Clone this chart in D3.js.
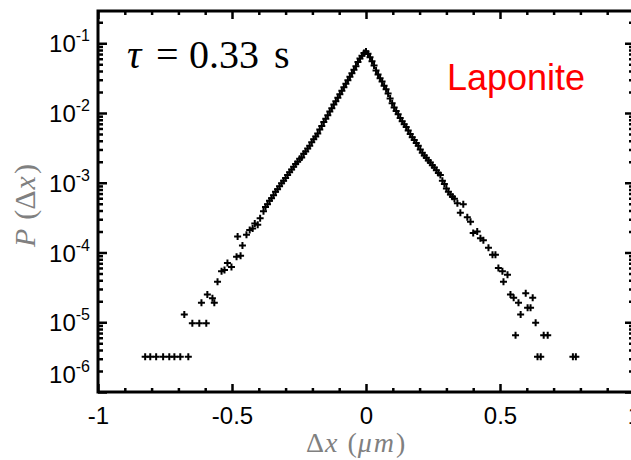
<!DOCTYPE html>
<html>
<head>
<meta charset="utf-8">
<script src="https://cdn.jsdelivr.net/npm/d3@7"></script>
<style>
  body { margin: 0; background: #fff; }
  svg { display: block; }
</style>
</head>
<body>
<div id="chart"></div>
<script>
// displacement bins (um) and probability
const dx = [
  // dense core, left flank
  0, -0.0075, -0.015, -0.0225, -0.03, -0.0375, -0.045, -0.0525, -0.06, -0.0675,
  -0.075, -0.0825, -0.09, -0.0975, -0.105, -0.1125, -0.12, -0.1275, -0.135, -0.1425,
  -0.15, -0.1575, -0.165, -0.1725, -0.18, -0.1875, -0.195, -0.2025, -0.21, -0.2175,
  -0.225, -0.2325, -0.24, -0.2475, -0.255, -0.2625, -0.27, -0.2775, -0.285, -0.2925,
  -0.3, -0.3075, -0.315, -0.3225, -0.33, -0.3375, -0.345, -0.3525, -0.36, -0.3675,
  -0.375, -0.3825,
  // left tail
  -0.395, -0.404, -0.415, -0.423, -0.434, -0.446, -0.461, -0.468, -0.479, -0.483,
  -0.502, -0.517, -0.528, -0.539, -0.554, -0.566, -0.573, -0.592, -0.614, -0.596,
  -0.622, -0.648, -0.678, -0.663, -0.693, -0.715, -0.734, -0.757, -0.783, -0.805, -0.824,
  // dense core, right flank
  0.0075, 0.015, 0.0225, 0.03, 0.0375, 0.045, 0.0525, 0.06, 0.0675, 0.075,
  0.0825, 0.09, 0.0975, 0.105, 0.1125, 0.12, 0.1275, 0.135, 0.1425, 0.15,
  0.1575, 0.165, 0.1725, 0.18, 0.1875, 0.195, 0.2025, 0.21, 0.2175, 0.225,
  0.2325, 0.24, 0.2475, 0.255, 0.2625, 0.27, 0.2775, 0.285, 0.2925, 0.3,
  0.3075, 0.315, 0.3225, 0.33,
  // right tail
  0.341, 0.352, 0.363, 0.378, 0.39, 0.4, 0.415, 0.427, 0.438, 0.457,
  0.472, 0.483, 0.494, 0.509, 0.513, 0.528, 0.539, 0.551, 0.558, 0.569,
  0.577, 0.596, 0.603, 0.614, 0.622, 0.633, 0.64, 0.652, 0.663, 0.678,
  0.772, 0.783
];
const prob = [
  0.0759, 0.0724, 0.0661, 0.0603, 0.0537, 0.0468, 0.0417, 0.0372, 0.0331, 0.0295,
  0.0263, 0.0234, 0.0209, 0.0186, 0.0166, 0.0148, 0.0132, 0.0117, 0.0105, 0.0093,
  0.0083, 0.0074, 0.0065, 0.0058, 0.0051, 0.0046, 0.0042, 0.0038, 0.0034, 0.0031,
  0.0028, 0.0026, 0.0023, 0.0022, 0.0020, 0.00186, 0.0017, 0.00155, 0.00141, 0.00129,
  0.00117, 0.00107, 0.00098, 0.00089, 0.00081, 0.00074, 0.00066, 0.0006, 0.00055, 0.00049,
  0.00045, 0.00039,
  3.1e-4, 2.5e-4, 2.6e-4, 2.2e-4, 2.1e-4, 1.8e-4, 1.26e-4, 9.0e-5, 1.7e-4, 8.7e-5,
  6.2e-5, 7.1e-5, 5.6e-5, 5.4e-5, 3.8e-5, 1.9e-5, 2.2e-5, 2.5e-5, 1.9e-5, 9.7e-6,
  9.7e-6, 9.7e-6, 1.29e-5, 3.2e-6, 3.2e-6, 3.2e-6, 3.2e-6, 3.2e-6, 3.2e-6, 3.2e-6, 3.2e-6,
  0.0708, 0.0631, 0.055, 0.0479, 0.0407, 0.0355, 0.0316, 0.0282, 0.0245, 0.0219,
  0.0191, 0.0162, 0.0138, 0.012, 0.0107, 0.0096, 0.0085, 0.0076, 0.0069, 0.0063,
  0.0056, 0.005, 0.0045, 0.0041, 0.0037, 0.0034, 0.003, 0.0027, 0.00245, 0.00229,
  0.00209, 0.00195, 0.00178, 0.00166, 0.00151, 0.00138, 0.00129, 0.00107, 0.00096, 0.00083,
  0.00074, 0.00068, 0.00063, 0.00059,
  5.1e-4, 3.7e-4, 4.9e-4, 3.2e-4, 2.75e-4, 1.9e-4, 2.0e-4, 1.6e-4, 1.5e-4, 1.17e-4,
  9.3e-5, 9.3e-5, 6.0e-5, 5.4e-5, 3.8e-5, 4.8e-5, 2.5e-5, 2.24e-5, 6.5e-6, 1.9e-5,
  1.29e-5, 2.6e-5, 1.62e-5, 1.62e-5, 2.24e-5, 9.8e-6, 3.2e-6, 3.2e-6, 6.5e-6, 6.5e-6,
  3.2e-6, 3.2e-6
];

const xTicks = [-1, -0.5, 0, 0.5, 1];
const xTickLabels = ["-1", "-0.5", "0", "0.5", "1"];
const yExponents = [-1, -2, -3, -4, -5, -6];

const width = 631, height = 460;
const plotL = 98, plotR = 634, plotT = 11, plotB = 392;

const svg = d3.select("#chart")
  .append("svg")
  .attr("width", width)
  .attr("height", height);

const x = d3.scaleLinear().domain([-1, 1]).range([plotL, plotR]);
const y = d3.scaleLog().domain([1e-6, 0.29]).range([plotB, plotT]);

// minor tick positions
const xMinor = d3.range(-10, 11).map(d => d / 10).filter(d => !xTicks.includes(d));
const yMajor = yExponents.map(e => Math.pow(10, e));
const yMinor = [];
yExponents.forEach(e => {
  for (let m = 2; m <= 9; m++) {
    const v = m * Math.pow(10, e);
    if (v <= 0.29) yMinor.push(v);
  }
});

const styleAxis = g => {
  g.select(".domain").remove();
  g.selectAll("line").attr("stroke", "#000").attr("stroke-width", 2.5);
};

// bottom
svg.append("g")
  .attr("transform", `translate(0,${plotB})`)
  .call(d3.axisBottom(x).tickValues(xTicks).tickSize(-8).tickSizeOuter(0)
    .tickPadding(15).tickFormat((d, i) => xTickLabels[i]))
  .call(styleAxis)
  .call(g => g.selectAll("text")
    .attr("fill", "#000")
    .style("font-family", "'Liberation Sans', Arial, sans-serif")
    .style("font-size", "24px"));
svg.append("g")
  .attr("transform", `translate(0,${plotB})`)
  .call(d3.axisBottom(x).tickValues(xMinor).tickSize(-4).tickSizeOuter(0).tickFormat(""))
  .call(styleAxis);

// top
svg.append("g")
  .attr("transform", `translate(0,${plotT})`)
  .call(d3.axisTop(x).tickValues(xTicks).tickSize(-8).tickSizeOuter(0).tickFormat(""))
  .call(styleAxis);
svg.append("g")
  .attr("transform", `translate(0,${plotT})`)
  .call(d3.axisTop(x).tickValues(xMinor).tickSize(-4).tickSizeOuter(0).tickFormat(""))
  .call(styleAxis);

// left
svg.append("g")
  .attr("transform", `translate(${plotL},0)`)
  .call(d3.axisLeft(y).tickValues(yMajor).tickSize(-9).tickSizeOuter(0).tickFormat(""))
  .call(styleAxis);
svg.append("g")
  .attr("transform", `translate(${plotL},0)`)
  .call(d3.axisLeft(y).tickValues(yMinor).tickSize(-5).tickSizeOuter(0).tickFormat(""))
  .call(styleAxis);

// right
svg.append("g")
  .attr("transform", `translate(${plotR},0)`)
  .call(d3.axisRight(y).tickValues(yMajor).tickSize(-9).tickSizeOuter(0).tickFormat(""))
  .call(styleAxis);
svg.append("g")
  .attr("transform", `translate(${plotR},0)`)
  .call(d3.axisRight(y).tickValues(yMinor).tickSize(-5).tickSizeOuter(0).tickFormat(""))
  .call(styleAxis);

// y tick labels as 10^e
const yLab = svg.append("g")
  .style("font-family", "'Liberation Sans', Arial, sans-serif");
yExponents.forEach(e => {
  const t = yLab.append("text")
    .attr("x", 90)
    .attr("y", Math.min(y(Math.pow(10, e)) + 9, 383))
    .attr("text-anchor", "end")
    .attr("fill", "#000");
  t.append("tspan").style("font-size", "24px").text("10");
  t.append("tspan").style("font-size", "16px").attr("dy", -11).text(String(e));
});

// frame
svg.append("rect")
  .attr("x", plotL).attr("y", plotT)
  .attr("width", plotR - plotL).attr("height", plotB - plotT)
  .attr("fill", "none")
  .attr("stroke", "#000")
  .attr("stroke-width", 3);

// data points as plus markers
const points = dx.map((d, i) => ({dx: d, p: prob[i]}));
svg.append("g")
  .selectAll("path")
  .data(points)
  .join("path")
  .attr("transform", d => `translate(${x(d.dx)},${y(d.p)})`)
  .attr("d", "M-3.5,0H3.5M0,-3.5V3.5")
  .attr("stroke", "#000")
  .attr("stroke-width", 2)
  .attr("fill", "none");

// annotations
const serif = "'Liberation Serif', 'Times New Roman', serif";
const tau = svg.append("text")
  .attr("y", 68)
  .style("font-family", serif)
  .style("font-size", "40px")
  .attr("fill", "#000");
tau.append("tspan").attr("x", 127).style("font-style", "italic").text("τ");
tau.append("tspan").attr("x", 156).text("=");
tau.append("tspan").attr("x", 189).text("0.33");
tau.append("tspan").attr("x", 274).text("s");

svg.append("text")
  .attr("x", 447).attr("y", 90)
  .style("font-family", "'Liberation Sans', Arial, sans-serif")
  .style("font-size", "36px")
  .attr("fill", "#ff0000")
  .text("Laponite");

// axis titles
const xTitle = svg.append("text")
  .attr("x", 306).attr("y", 452)
  .style("font-family", serif)
  .style("font-size", "28px")
  .attr("fill", "#808080");
xTitle.append("tspan").text("Δ");
xTitle.append("tspan").attr("dx", 1).style("font-style", "italic").text("x");
xTitle.append("tspan").attr("dx", 10).text("(");
xTitle.append("tspan").attr("dx", 1).style("font-style", "italic").text("μ");
xTitle.append("tspan").attr("dx", 2).style("font-style", "italic").text("m");
xTitle.append("tspan").attr("dx", 2).text(")");

const yTitle = svg.append("text")
  .attr("transform", "translate(35,247) rotate(-90)")
  .style("font-family", serif)
  .style("font-size", "30px")
  .attr("fill", "#808080");
yTitle.append("tspan").style("font-style", "italic").text("P");
yTitle.append("tspan").attr("dx", 9).text("(Δ");
yTitle.append("tspan").attr("dx", 1).style("font-style", "italic").text("x");
yTitle.append("tspan").attr("dx", 2).text(")");
</script>
</body>
</html>
